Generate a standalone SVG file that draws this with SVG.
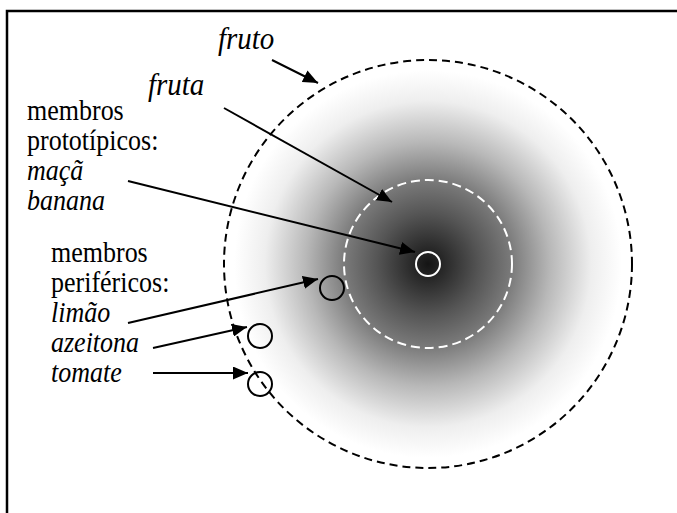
<svg xmlns="http://www.w3.org/2000/svg" width="677" height="513" viewBox="0 0 677 513">
<style>
.t{font-family:"Liberation Serif","Times New Roman",serif;font-size:26px;fill:#000}
.i{font-style:italic}
.big{font-size:29px}
.conn{stroke:#000;stroke-width:2;fill:none;marker-end:url(#ah)}
.small{fill:none;stroke-width:2}
</style>
<defs>
<radialGradient id="g" cx="428" cy="264" r="204" gradientUnits="userSpaceOnUse">
<stop offset="0" stop-color="#141414"/>
<stop offset="0.25" stop-color="#555"/>
<stop offset="0.41" stop-color="#7a7a7a"/>
<stop offset="0.6" stop-color="#b8b8b8"/>
<stop offset="0.8" stop-color="#eeeeee"/>
<stop offset="0.95" stop-color="#fff"/>
</radialGradient>
<marker id="ah" markerUnits="userSpaceOnUse" markerWidth="16" markerHeight="13" refX="15" refY="6.5" orient="auto">
<path d="M0,0 L15,6.5 L0,13 z" fill="#000"/>
</marker>
</defs>
<rect width="677" height="513" fill="#fff"/>
<path d="M7,513 V11 H677" fill="none" stroke="#000" stroke-width="2.5"/>
<g id="fruto">
<circle cx="428" cy="264" r="204" fill="url(#g)" stroke="#000" stroke-width="2" stroke-dasharray="8,5"/>
<text class="t i big" transform="translate(218,49) scale(1,1.12)">fruto</text>
</g>
<g id="fruta">
<circle cx="428" cy="264" r="84" fill="none" stroke="#fff" stroke-width="2" stroke-dasharray="9,5"/>
<text class="t i big" transform="translate(148,95) scale(1,1.12)">fruta</text>
</g>
<g id="prototipicos">
<circle cx="428" cy="264" r="12" class="small" stroke="#fff"/>
<text class="t" transform="translate(27,120) scale(1,1.13)">membros</text>
<text class="t" transform="translate(27,150) scale(1,1.13)">prototípicos:</text>
<text class="t i" transform="translate(27,180) scale(1,1.13)">maçã</text>
<text class="t i" transform="translate(27,210) scale(1,1.13)">banana</text>
</g>
<g id="perifericos">
<text class="t" transform="translate(51,262) scale(1,1.13)">membros</text>
<text class="t" transform="translate(51,292) scale(1,1.13)">periféricos:</text>
</g>
<g id="limao">
<circle cx="332" cy="288" r="12" class="small" stroke="#000"/>
<text class="t i" transform="translate(51,322) scale(1,1.13)">limão</text>
</g>
<g id="azeitona">
<circle cx="260" cy="336" r="12" class="small" stroke="#000"/>
<text class="t i" transform="translate(51,352) scale(1,1.13)">azeitona</text>
</g>
<g id="tomate">
<circle cx="260" cy="384" r="12" class="small" stroke="#000"/>
<text class="t i" transform="translate(51,382) scale(1,1.13)">tomate</text>
</g>
<g id="connectors">
<line class="conn" x1="272" y1="60" x2="318" y2="83"/>
<line class="conn" x1="224" y1="108" x2="392" y2="202"/>
<line class="conn" x1="128" y1="181" x2="415" y2="252"/>
<line class="conn" x1="128" y1="323" x2="318" y2="279"/>
<line class="conn" x1="153" y1="348" x2="247" y2="327"/>
<line class="conn" x1="153" y1="373" x2="248" y2="373"/>
</g>
</svg>
